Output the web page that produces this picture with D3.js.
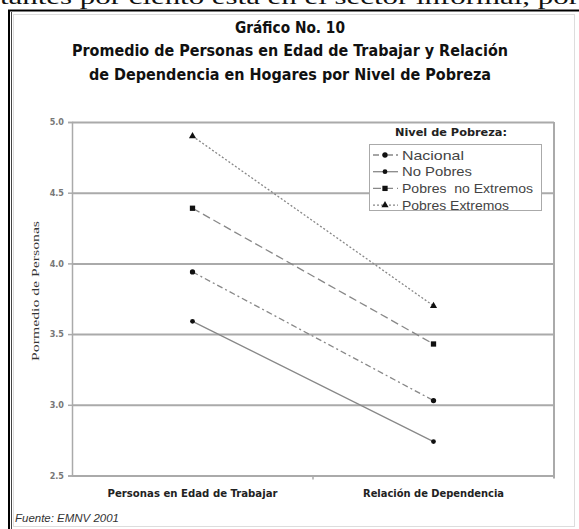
<!DOCTYPE html>
<html>
<head>
<meta charset="utf-8">
<script src="https://cdn.jsdelivr.net/npm/d3@7"></script>
<style>
  html, body { margin: 0; padding: 0; background: #fff; }
  svg { display: block; }
</style>
</head>
<body>
<svg id="chart" width="579" height="529"></svg>
<script>
// ---- Data ----
const categories = ["Personas en Edad de Trabajar", "Relación de Dependencia"];
const seriesNames = ["Nacional", "No Pobres", "Pobres  no Extremos", "Pobres Extremos"];
const nacional = [3.94, 3.03];
const noPobres = [3.59, 2.74];
const pobresNoExtremos = [4.39, 3.43];
const pobresExtremos = [4.90, 3.70];
const yTicks = [2.5, 3.0, 3.5, 4.0, 4.5, 5.0];
const titleLines = ["Gráfico No. 10",
  "Promedio de Personas en Edad de Trabajar y Relación",
  "de Dependencia en Hogares por Nivel de Pobreza"];
const yTitle = "Pormedio de Personas";
const legendTitle = "Nivel de Pobreza:";
const sourceText = "Fuente: EMNV 2001";
const topText = "tantes por ciento está en el sector informal, por";

const seriesValues = [nacional, noPobres, pobresNoExtremos, pobresExtremos];
const dashes = ["6,3,2,3", null, "8,4", "2,2"];
const symbols = [d3.symbolCircle, d3.symbolCircle, d3.symbolSquare, d3.symbolTriangle];
const symSizes = [22, 18, 28, 22];

const svg = d3.select("#chart");

// ---- Background page text (cut off at the top, as in the scan) ----
svg.append("text").attr("x", 0).attr("y", 4)
  .attr("font-family", "Liberation Serif, serif").attr("font-size", 20)
  .attr("textLength", 579).attr("lengthAdjust", "spacingAndGlyphs")
  .attr("fill", "#111").text(topText);

// ---- Frame ----
svg.append("line").attr("x1", 8).attr("x2", 579).attr("y1", 10.5).attr("y2", 10.5)
  .attr("stroke", "#000").attr("stroke-width", 2);
svg.append("line").attr("x1", 9).attr("x2", 9).attr("y1", 10).attr("y2", 529)
  .attr("stroke", "#000").attr("stroke-width", 2);
svg.append("line").attr("x1", 11.5).attr("x2", 11.5).attr("y1", 12).attr("y2", 529)
  .attr("stroke", "#444").attr("stroke-width", 1);
svg.append("rect").attr("x", 13.5).attr("y", 14.5).attr("width", 561).attr("height", 512)
  .attr("fill", "none").attr("stroke", "#ddd").attr("stroke-width", 1);

// ---- Title ----
const titleFont = "'Liberation Sans Narrow', 'DejaVu Sans Condensed', sans-serif";
const titleY = [33, 56, 80];
const titleW = [110, 436, 402];
titleLines.forEach((t, i) => {
  svg.append("text").attr("x", 290).attr("y", titleY[i])
    .attr("text-anchor", "middle")
    .attr("font-family", "'DejaVu Sans Condensed', 'Liberation Sans Narrow', sans-serif")
    .attr("font-weight", "bold").attr("font-size", 15)
    .attr("textLength", titleW[i]).attr("lengthAdjust", "spacingAndGlyphs")
    .attr("fill", "#111").text(t);
});

// ---- Scales ----
const plotL = 72, plotR = 554, plotT = 122, plotB = 475.5;
const x = d3.scaleBand().domain(categories).range([plotL, plotR]);
const y = d3.scaleLinear().domain([2.5, 5.0]).range([plotB, plotT]);

// gridlines
const grid = svg.append("g").attr("transform", `translate(${plotL},0)`)
  .call(d3.axisLeft(y).tickValues(yTicks).tickSize(-(plotR - plotL)).tickFormat(""));
grid.select(".domain").remove();
grid.selectAll("line").attr("stroke", "#aaa").attr("stroke-width", 2);

// plot border right
svg.append("line").attr("x1", plotR).attr("x2", plotR).attr("y1", plotT).attr("y2", plotB + 3)
  .attr("stroke", "#aaa").attr("stroke-width", 2);

// y axis
const yAxis = svg.append("g").attr("transform", `translate(${plotL},0)`)
  .call(d3.axisLeft(y).tickValues(yTicks).tickSize(4).tickPadding(4).tickFormat(d3.format(".1f")));
yAxis.select(".domain").attr("stroke", "#aaa").attr("stroke-width", 1.5);
yAxis.selectAll(".tick line").attr("stroke", "#aaa").attr("stroke-width", 1.5);
yAxis.selectAll(".tick text").attr("font-family", titleFont).attr("font-size", 9)
  .attr("fill", "#777").attr("font-weight", "bold");

// x axis
const xAxis = svg.append("g").attr("transform", `translate(0,${plotB})`)
  .call(d3.axisBottom(x).tickSize(0).tickPadding(14));
xAxis.select(".domain").remove();
xAxis.selectAll(".tick text").attr("font-family", "'DejaVu Sans Condensed', 'Liberation Sans Narrow', sans-serif")
  .attr("font-weight", "bold").attr("font-size", 11).attr("fill", "#222")
  .attr("textLength", d => d === categories[0] ? 170 : 141)
  .attr("lengthAdjust", "spacingAndGlyphs");
// category separator tick
svg.append("line").attr("x1", x(categories[1])).attr("x2", x(categories[1]))
  .attr("y1", plotB).attr("y2", plotB + 4).attr("stroke", "#aaa").attr("stroke-width", 1.5);

// y title
svg.append("text").attr("transform", `translate(39,291) rotate(-90)`)
  .attr("text-anchor", "middle").attr("font-family", "Liberation Serif, serif")
  .attr("font-size", 11).attr("fill", "#333")
  .attr("textLength", 140).attr("lengthAdjust", "spacingAndGlyphs")
  .text(yTitle);

// ---- Series ----
const line = d3.line().x((d, i) => x(categories[i]) + x.bandwidth() / 2).y(d => y(d));
seriesValues.forEach((vals, s) => {
  svg.append("path").datum(vals).attr("d", line)
    .attr("fill", "none").attr("stroke", "#888").attr("stroke-width", 1.3)
    .attr("stroke-dasharray", dashes[s]);
  svg.selectAll(null).data(vals).enter().append("path")
    .attr("transform", (d, i) => `translate(${x(categories[i]) + x.bandwidth() / 2},${y(d)})`)
    .attr("d", d3.symbol().type(symbols[s]).size(symSizes[s]))
    .attr("fill", "#111");
});

// ---- Legend ----
svg.append("text").attr("x", 451).attr("y", 136).attr("text-anchor", "middle")
  .attr("font-family", "'DejaVu Sans Condensed', 'Liberation Sans Narrow', sans-serif")
  .attr("font-weight", "bold").attr("font-size", 11).attr("fill", "#222")
  .attr("textLength", 112).attr("lengthAdjust", "spacingAndGlyphs")
  .text(legendTitle);
const lg = svg.append("g");
lg.append("rect").attr("x", 369.5).attr("y", 144.5).attr("width", 172).attr("height", 66)
  .attr("fill", "#fff").attr("stroke", "#aaa").attr("stroke-width", 1);
const legW = [62, 70, 131, 107];
seriesNames.forEach((n, s) => {
  const ly = 155 + s * 16.7;
  lg.append("line").attr("x1", 373).attr("x2", 398).attr("y1", ly).attr("y2", ly)
    .attr("stroke", "#888").attr("stroke-width", 1.3).attr("stroke-dasharray", dashes[s]);
  lg.append("path").attr("transform", `translate(385,${ly})`)
    .attr("d", d3.symbol().type(symbols[s]).size(symSizes[s]))
    .attr("fill", "#111");
  lg.append("text").attr("x", 402).attr("y", ly + 4.5)
    .attr("font-family", "'Liberation Sans', Arial, sans-serif").attr("font-size", 13)
    .attr("fill", "#444").style("white-space", "pre")
    .attr("textLength", legW[s]).attr("lengthAdjust", "spacingAndGlyphs")
    .text(n);
});

// ---- Source ----
svg.append("text").attr("x", 15).attr("y", 522)
  .attr("font-family", "'Liberation Sans', Arial, sans-serif").attr("font-style", "italic")
  .attr("font-size", 10).attr("fill", "#333")
  .attr("textLength", 104).attr("lengthAdjust", "spacingAndGlyphs")
  .text(sourceText);
</script>
</body>
</html>
